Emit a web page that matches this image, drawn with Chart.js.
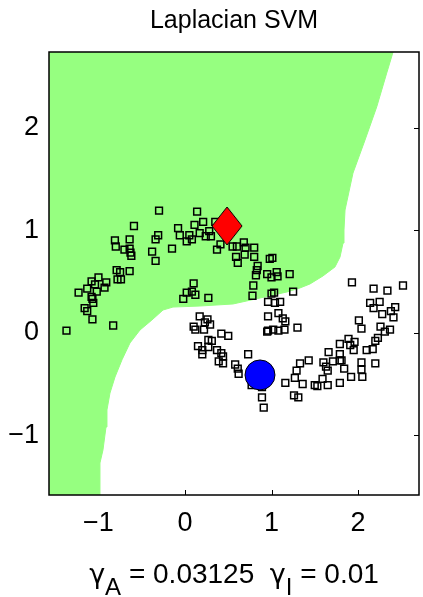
<!DOCTYPE html>
<html>
<head>
<meta charset="utf-8">
<script src="https://cdn.jsdelivr.net/npm/chart.js@4.4.1/dist/chart.umd.min.js"></script>
<style>
  html, body { margin: 0; padding: 0; background: #fff; }
  #wrap { width: 423px; height: 597px; }
</style>
</head>
<body>
<div id="wrap"><canvas id="lapsvm" width="423" height="597"></canvas></div>
<script>
// Axis limits and ticks
const xLimits = [-1.572, 2.705];
const yLimits = [-1.582, 2.736];
const tickValues = [-1, 0, 1, 2];

// Decision boundary of the green class region (region lies above/left of it)
const boundaryX = [-0.994, -0.983, -0.948, -0.913, -0.902, -0.867, -0.809, -0.728, -0.636, -0.520,
  -0.382, -0.254, -0.139, 0.173, 0.555, 0.867, 1.179, 1.329, 1.445, 1.595,
  1.734, 1.792, 1.827, 1.838, 1.850, 1.942, 2.081, 2.216, 2.332, 2.405];
const boundaryY = [-1.582, -1.270, -1.143, -0.919, -0.753, -0.588, -0.432, -0.264, -0.100, 0.026,
  0.124, 0.221, 0.250, 0.260, 0.280, 0.338, 0.397, 0.436, 0.475, 0.553,
  0.641, 0.738, 0.874, 1.001, 1.196, 1.556, 1.878, 2.200, 2.531, 2.736];

// Labeled examples
const positiveX = [0.486];
const positiveY = [1.04];
const negativeX = [0.867];
const negativeY = [-0.412];

// Unlabeled examples
const unlabeledX = [
  -0.59, -0.81, -0.64, -0.80, -0.70, -0.64, -0.63, -0.62, -0.79, -0.75, -0.64, -0.78, -0.74, -1.00, -1.08,
  -1.04, -0.91, -0.93, -1.13, -1.02, -1.23, -1.08, -1.07, -1.06, -1.16, -1.13, -1.07, -0.83, -1.37,
  -0.30, 0.14, 0.21, 0.11, -0.08, -0.31, -0.34, -0.06, 0.05, 0.17, 0.28, 0.24, 0.30, 0.02, 0.08,
  -0.15, -0.38, -0.34, 0.37, 0.41, 0.35, 0.10, 0.02, 0.08, 0.12, -0.02, 0.27,
  0.68, 0.60, 0.70, 0.80, 0.59, 0.69, 0.80, 0.61, 0.98, 1.01, 0.84, 0.83, 0.82, 0.95, 1.00,
  1.06, 1.07, 1.21, 0.79, 0.78, 1.00, 1.03, 1.25, 0.55,
  0.17, 0.26, 0.23, 0.29, 0.10, 0.12, 0.22, 0.42, 0.50, 0.27, 0.31, 0.15, 0.27, 0.20, 0.20,
  0.37, 0.42, 0.44, 0.39, 0.44, 0.73, 0.58, 0.61, 0.62, 0.77, 0.89, 0.89, 0.91,
  0.96, 1.04, 1.10, 0.96, 1.08, 1.13, 1.16, 1.15, 1.08, 1.02, 0.96, 1.30, 0.95,
  2.14, 2.25, 2.43, 2.18, 2.28, 2.38, 2.41, 2.01, 2.04, 2.26, 2.37, 2.31, 2.23, 2.20, 1.89,
  1.96, 1.79, 1.91, 1.95, 2.10, 2.17, 1.66, 1.79, 1.79, 1.43, 1.60, 1.71, 1.81, 1.33, 1.63,
  1.65, 1.84, 2.04, 2.20, 2.04, 1.29, 1.27, 1.59, 1.92, 2.05, 1.16, 1.36, 1.50, 1.53, 1.65,
  1.79, 1.26, 1.31,
  1.93, 2.18, 2.34, 2.52
];
const unlabeledY = [
  1.04, 0.90, 0.91, 0.84, 0.81, 0.82, 0.78, 0.75, 0.61, 0.59, 0.60, 0.52, 0.52, 0.54, 0.50,
  0.47, 0.49, 0.44, 0.43, 0.40, 0.39, 0.35, 0.33, 0.29, 0.24, 0.21, 0.13, 0.07, 0.02,
  1.19, 1.18, 1.08, 1.05, 1.02, 0.95, 0.91, 0.95, 0.95, 0.97, 0.99, 0.94, 0.94, 0.89, 0.91,
  0.82, 0.79, 0.70, 0.81, 0.86, 1.08, 0.48, 0.39, 0.40, 0.37, 0.33, 0.34,
  0.88, 0.84, 0.83, 0.83, 0.74, 0.76, 0.74, 0.68, 0.72, 0.73, 0.65, 0.61, 0.56, 0.57, 0.54,
  0.59, 0.55, 0.57, 0.46, 0.36, 0.38, 0.39, 0.40, 0.84,
  0.16, 0.13, 0.10, 0.08, 0.06, 0.03, 0.03, -0.01, -0.03, -0.07, -0.08, -0.13, -0.14, -0.17, -0.21,
  -0.17, -0.20, -0.23, -0.28, -0.30, -0.21, -0.31, -0.35, -0.40, -0.51, -0.53, -0.63, -0.73,
  0.30, 0.29, 0.30, 0.16, 0.19, 0.14, 0.11, 0.03, 0.02, 0.03, 0.02, 0.05, 0.01,
  0.29, 0.30, 0.25, 0.24, 0.18, 0.21, 0.15, 0.12, 0.04, 0.06, 0.03, 0.01, -0.05, -0.08, -0.06,
  -0.09, -0.11, -0.12, -0.17, -0.17, -0.16, -0.19, -0.21, -0.27, -0.27, -0.29, -0.28, -0.27, -0.30, -0.33,
  -0.37, -0.35, -0.29, -0.30, -0.36, -0.37, -0.44, -0.45, -0.43, -0.43, -0.49, -0.50, -0.51, -0.52, -0.51,
  -0.49, -0.61, -0.63,
  0.49, 0.43, 0.41, 0.46
];

const titleText = 'Laplacian SVM';
const gammaA = '0.03125';
const gammaI = '0.01';

const FONT = "'Liberation Sans', Arial, Helvetica, sans-serif";
const GREEK = "'DejaVu Sans', 'Liberation Sans', sans-serif";
const toPoints = (xs, ys) => xs.map((x, i) => ({x: x, y: ys[i]}));

// Region polygon: start at the lower left corner, then follow the boundary
const regionPoints = [{x: xLimits[0], y: yLimits[0]}].concat(toPoints(boundaryX, boundaryY));

// Diamond marker (MATLAB 'd' is a bit taller than wide)
const diamond = document.createElement('canvas');
diamond.width = 32;
diamond.height = 40;
const dctx = diamond.getContext('2d');
dctx.beginPath();
dctx.moveTo(16, 1);
dctx.lineTo(31, 20);
dctx.lineTo(16, 39);
dctx.lineTo(1, 20);
dctx.closePath();
dctx.fillStyle = '#ff0000';
dctx.fill();
dctx.lineWidth = 1;
dctx.strokeStyle = '#000';
dctx.stroke();

// Inward tick marks (drawn under the data, like MATLAB's bottom layer)
const insideTicks = {
  id: 'insideTicks',
  beforeDatasetsDraw(chart) {
    const {ctx, chartArea: a, scales} = chart;
    ctx.save();
    ctx.strokeStyle = '#000';
    ctx.lineWidth = 1;
    ctx.beginPath();
    tickValues.forEach(v => {
      const px = Math.round(scales.x.getPixelForValue(v)) + 0.5;
      ctx.moveTo(px, a.bottom); ctx.lineTo(px, a.bottom - 5);
      ctx.moveTo(px, a.top); ctx.lineTo(px, a.top + 5);
      const py = Math.round(scales.y.getPixelForValue(v)) + 0.5;
      ctx.moveTo(a.left, py); ctx.lineTo(a.left + 5, py);
      ctx.moveTo(a.right, py); ctx.lineTo(a.right - 5, py);
    });
    ctx.stroke();
    ctx.restore();
  }
};

// Axes box plus the x label with subscripts
const boxAndLabel = {
  id: 'boxAndLabel',
  afterDatasetsDraw(chart) {
    const {ctx, chartArea: a} = chart;
    ctx.save();
    ctx.strokeStyle = '#000';
    ctx.lineWidth = 1.5;
    ctx.strokeRect(a.left, a.top, a.right - a.left, a.bottom - a.top);
    ctx.restore();
  },
  afterDraw(chart) {
    const {ctx, chartArea: a} = chart;
    const parts = [
      {t: '\u03B3', kind: 'greek'},
      {t: 'A', kind: 'sub'},
      {t: ' = ' + gammaA + '  ', kind: 'main'},
      {t: '\u03B3', kind: 'greek'},
      {t: 'I', kind: 'sub'},
      {t: ' = ' + gammaI, kind: 'main'}
    ];
    const fonts = {
      main: '28px ' + FONT,
      sub: '24px ' + FONT,
      greek: '27px ' + GREEK
    };
    ctx.save();
    ctx.fillStyle = '#000';
    ctx.textBaseline = 'alphabetic';
    ctx.textAlign = 'left';
    let total = 0;
    parts.forEach(p => {
      ctx.font = fonts[p.kind];
      p.w = ctx.measureText(p.t).width;
      total += p.w;
    });
    let x = (a.left + a.right) / 2 - total / 2;
    const base = 583;
    parts.forEach(p => {
      ctx.font = fonts[p.kind];
      ctx.fillText(p.t, x, p.kind === 'sub' ? base + 12 : base);
      x += p.w;
    });
    ctx.restore();
  }
};

const minusLabel = v => (v < 0 ? '\u2212' + Math.abs(v) : String(v));

const ctx = document.getElementById('lapsvm').getContext('2d');
new Chart(ctx, {
  type: 'scatter',
  data: {
    datasets: [
      {
        label: 'positive',
        data: toPoints(positiveX, positiveY),
        pointStyle: diamond,
        pointRadius: 20
      },
      {
        label: 'negative',
        data: toPoints(negativeX, negativeY),
        pointStyle: 'circle',
        pointRadius: 15,
        pointBackgroundColor: '#0000ff',
        pointBorderColor: '#000',
        pointBorderWidth: 1
      },
      {
        label: 'unlabeled',
        data: toPoints(unlabeledX, unlabeledY),
        pointStyle: 'rect',
        pointRadius: 4.8,
        pointBackgroundColor: 'rgba(0,0,0,0)',
        pointBorderColor: '#000',
        pointBorderWidth: 1.5
      },
      {
        label: 'region',
        data: regionPoints,
        showLine: true,
        fill: 'end',
        backgroundColor: 'rgb(150,255,128)',
        borderColor: 'rgb(150,255,128)',
        borderWidth: 1,
        pointRadius: 0,
        tension: 0
      }
    ]
  },
  options: {
    responsive: false,
    animation: false,
    events: [],
    layout: {autoPadding: false, padding: {left: 0, right: 4, top: 0, bottom: 0}},
    plugins: {
      legend: {display: false},
      tooltip: {enabled: false},
      title: {
        display: true,
        fullSize: false,
        text: titleText,
        color: '#000',
        font: {family: FONT, size: 25, weight: 'normal'},
        padding: {top: 6, bottom: 16}
      }
    },
    scales: {
      x: {
        type: 'linear',
        min: xLimits[0],
        max: xLimits[1],
        afterFit: s => { s.height = 102; s.paddingLeft = 0; s.paddingRight = 0; },
        grid: {display: false, drawTicks: false},
        border: {display: false},
        ticks: {
          stepSize: 1,
          includeBounds: false,
          padding: 12,
          color: '#000',
          font: {family: FONT, size: 27},
          callback: minusLabel
        }
      },
      y: {
        type: 'linear',
        min: yLimits[0],
        max: yLimits[1],
        afterFit: s => { s.width = 49; s.paddingTop = 0; s.paddingBottom = 0; },
        grid: {display: false, drawTicks: false},
        border: {display: false},
        ticks: {
          stepSize: 1,
          includeBounds: false,
          padding: 10,
          color: '#000',
          font: {family: FONT, size: 27},
          callback: minusLabel
        }
      }
    }
  },
  plugins: [insideTicks, boxAndLabel]
});
</script>
</body>
</html>
